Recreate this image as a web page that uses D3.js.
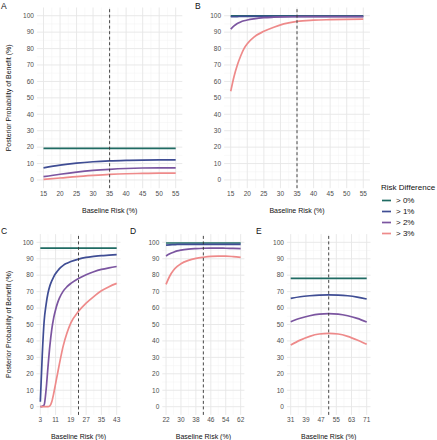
<!DOCTYPE html>
<html><head><meta charset="utf-8">
<script src="https://cdn.jsdelivr.net/npm/d3@7/dist/d3.min.js"></script>
<style>
body{margin:0;background:#fff;}
text{font-family:"Liberation Sans",Arial,sans-serif;}
</style></head>
<body><svg id="c" width="437" height="440"></svg>
<script>
const seriesNames = ["> 0%", "> 1%", "> 2%", "> 3%"];
const seriesColors = ["#1f6b63", "#3f4d94", "#7b55a0", "#ee8a8a"];
const yTicks = [0,10,20,30,40,50,60,70,80,90,100];

// Panel A
const aX  = [15,20,25,30,35,40,45,50,55];
const aP0 = [19.2,19.2,19.2,19.2,19.2,19.2,19.2,19.2,19.2];
const aP1 = [7.4,9.1,10.3,11.1,11.6,11.9,12.1,12.2,12.2];
const aP2 = [2.0,3.5,4.8,5.8,6.5,7.0,7.3,7.4,7.4];
const aP3 = [0.4,1.2,2.1,2.8,3.4,3.8,4.0,4.2,4.2];
const aTicks = [15,20,25,30,35,40,45,50,55];
const aRef = 35;

// Panel B
const bX  = [15,16,17,18,19,20,22,25,28,31,35,40,45,50,55];
const bP0 = [99.9,99.9,99.9,99.9,99.9,99.9,99.9,99.9,99.9,99.9,99.9,99.9,99.9,99.9,99.9];
const bP1 = [99.4,99.5,99.5,99.6,99.6,99.6,99.6,99.6,99.6,99.6,99.6,99.6,99.6,99.6,99.6];
const bP2 = [91.8,93.8,95.2,96.2,96.9,97.4,98.1,98.8,99.1,99.3,99.4,99.5,99.5,99.5,99.5];
const bP3 = [54,63,70,75.5,80,83,87,90.5,93,95,96.6,97.3,97.6,97.8,97.9];
const bTicks = [15,20,25,30,35,40,45,50,55];
const bRef = 35;

// Panel C
const cX  = [3,4,5,6,7,8,9,10,11,12,13,15,17,19,23,27,31,35,39,43];
const cP0 = [96.5,96.5,96.5,96.5,96.5,96.5,96.5,96.5,96.5,96.5,96.5,96.5,96.5,96.5,96.5,96.5,96.5,96.5,96.5,96.5];
const cP1 = [3,31,52,62,69,73.5,76.5,79,81,82.5,84,86,87.3,88.3,89.8,90.8,91.4,91.9,92.2,92.5];
const cP2 = [0,0.2,1,10,24,37,47,54,59,63,66,70.3,73,75,78,80.3,82.1,83.5,84.5,85.3];
const cP3 = [0,0,0,0,0,0.5,3,8,14,20,26,37,45,51,58,63,67,70.5,73,75];
const cTicks = [3,11,19,27,35,43];
const cRef = 23;

// Panel D
const dX  = [22,24,26,28,30,34,38,42,46,50,54,58,62];
const dP0 = [99.6,99.6,99.6,99.6,99.6,99.6,99.6,99.6,99.6,99.6,99.6,99.6,99.6];
const dP1 = [98.3,98.5,98.6,98.7,98.8,98.8,98.8,98.8,98.8,98.8,98.8,98.8,98.8];
const dP2 = [91.7,93,94,94.8,95.3,95.9,96.2,96.4,96.5,96.5,96.4,96.3,96.2];
const dP3 = [74.4,79.5,83,85.3,87,89,90.2,90.9,91.4,91.6,91.6,91.3,90.8];
const dTicks = [22,30,38,46,54,62];
const dRef = 42;

// Panel E
const eX  = [31,36,41,46,51,56,61,66,71];
const eP0 = [78.1,78.1,78.1,78.1,78.1,78.1,78.1,78.1,78.1];
const eP1 = [65.9,66.9,67.5,67.9,68,67.9,67.5,66.7,65.5];
const eP2 = [51.7,53.8,55.3,56.3,56.6,56.3,55.3,53.7,51.5];
const eP3 = [37.5,40.5,42.8,44.2,44.6,44.2,42.8,40.6,38];
const eTicks = [31,39,47,55,63,71];
const eRef = 51;

const svg = d3.select("#c");

const panels = [
  {label:"A", lx:1, ly:9, x:aX, s:[aP0,aP1,aP2,aP3], ticks:aTicks, ref:aRef, step:5, xr:[36.9,182.3], yr:[188.2,7.5], ytitle:true},
  {label:"B", lx:195, ly:9, x:bX, s:[bP0,bP1,bP2,bP3], ticks:bTicks, ref:bRef, step:5, xr:[224.1,369.9], yr:[188.2,7.5], ytitle:false},
  {label:"C", lx:1, ly:234, x:cX, s:[cP0,cP1,cP2,cP3], ticks:cTicks, ref:cRef, step:8, xr:[36.5,120.5], yr:[414.9,234.1], ytitle:true},
  {label:"D", lx:130, ly:234, x:dX, s:[dP0,dP1,dP2,dP3], ticks:dTicks, ref:dRef, step:8, xr:[162.3,244.4], yr:[414.9,234.1], ytitle:false},
  {label:"E", lx:256, ly:234, x:eX, s:[eP0,eP1,eP2,eP3], ticks:eTicks, ref:eRef, step:8, xr:[286.9,370.5], yr:[414.9,234.1], ytitle:false}
];

panels.forEach(p => {
  const lo = p.ticks[0], hi = p.ticks[p.ticks.length-1];
  const pad = (hi-lo)*0.05;
  const x = d3.scaleLinear().domain([lo-pad, hi+pad]).range(p.xr);
  const y = d3.scaleLinear().domain([-5,105]).range(p.yr);
  const g = svg.append("g");
  const xMinor = p.ticks.slice(0,-1).map(t => t + p.step/2);
  const yMinor = yTicks.slice(0,-1).map(t => t + 5);
  g.selectAll(".xm").data(xMinor).join("line")
    .attr("x1", d=>x(d)).attr("x2", d=>x(d)).attr("y1", p.yr[0]).attr("y2", p.yr[1])
    .attr("stroke","#f3f3f3").attr("stroke-width",0.5);
  g.selectAll(".ym").data(yMinor).join("line")
    .attr("y1", d=>y(d)).attr("y2", d=>y(d)).attr("x1", p.xr[0]).attr("x2", p.xr[1])
    .attr("stroke","#f3f3f3").attr("stroke-width",0.5);
  g.selectAll(".xg").data(p.ticks).join("line")
    .attr("x1", d=>x(d)).attr("x2", d=>x(d)).attr("y1", p.yr[0]).attr("y2", p.yr[1])
    .attr("stroke","#e6e6e6").attr("stroke-width",0.9);
  g.selectAll(".yg").data(yTicks).join("line")
    .attr("y1", d=>y(d)).attr("y2", d=>y(d)).attr("x1", p.xr[0]).attr("x2", p.xr[1])
    .attr("stroke","#e6e6e6").attr("stroke-width",0.9);
  g.selectAll(".yt").data(yTicks).join("text")
    .attr("x", p.xr[0]-3).attr("y", d=>y(d)).attr("dy","0.35em")
    .attr("text-anchor","end").attr("font-size",6.5).attr("fill","#4d4d4d").text(d=>d);
  g.selectAll(".xt").data(p.ticks).join("text")
    .attr("x", d=>x(d)).attr("y", p.yr[0]+7.5)
    .attr("text-anchor","middle").attr("font-size",6.5).attr("fill","#4d4d4d").text(d=>d);
  const line = d3.line().curve(d3.curveMonotoneX);
  p.s.forEach((vals, i) => {
    g.append("path").attr("d", line(p.x.map((xv,k)=>[x(xv), y(vals[k])])))
      .attr("fill","none").attr("stroke", seriesColors[i]).attr("stroke-width",1.7);
  });
  g.append("line").attr("x1", x(p.ref)).attr("x2", x(p.ref)).attr("y1", p.yr[0]).attr("y2", p.yr[1])
    .attr("stroke","#333").attr("stroke-width",0.9).attr("stroke-dasharray","3,2.5");
  const cx = (p.xr[0]+p.xr[1])/2;
  g.append("text").attr("x", cx).attr("y", p.yr[0]+24.5).attr("text-anchor","middle")
    .attr("font-size",7).attr("fill","#111").text("Baseline Risk (%)");
  if (p.ytitle) {
    const cy = (p.yr[0]+p.yr[1])/2;
    g.append("text").attr("transform", `translate(11,${cy}) rotate(-90)`).attr("text-anchor","middle")
      .attr("font-size",7).attr("fill","#111").text("Posterior Probability of Benefit (%)");
  }
  svg.append("text").attr("x", p.lx).attr("y", p.ly).attr("font-size",8.5).attr("fill","#111").text(p.label);
});

const lg = svg.append("g");
lg.append("text").attr("x",381).attr("y",190).attr("font-size",8).attr("fill","#111").text("Risk Difference");
seriesNames.forEach((n,i) => {
  const yy = 200.5 + i*11;
  lg.append("line").attr("x1",382).attr("x2",391).attr("y1",yy).attr("y2",yy)
    .attr("stroke",seriesColors[i]).attr("stroke-width",1.7);
  lg.append("text").attr("x",396).attr("y",yy).attr("dy","0.35em").attr("font-size",8).attr("fill","#111").text(n);
});
</script></body></html>
